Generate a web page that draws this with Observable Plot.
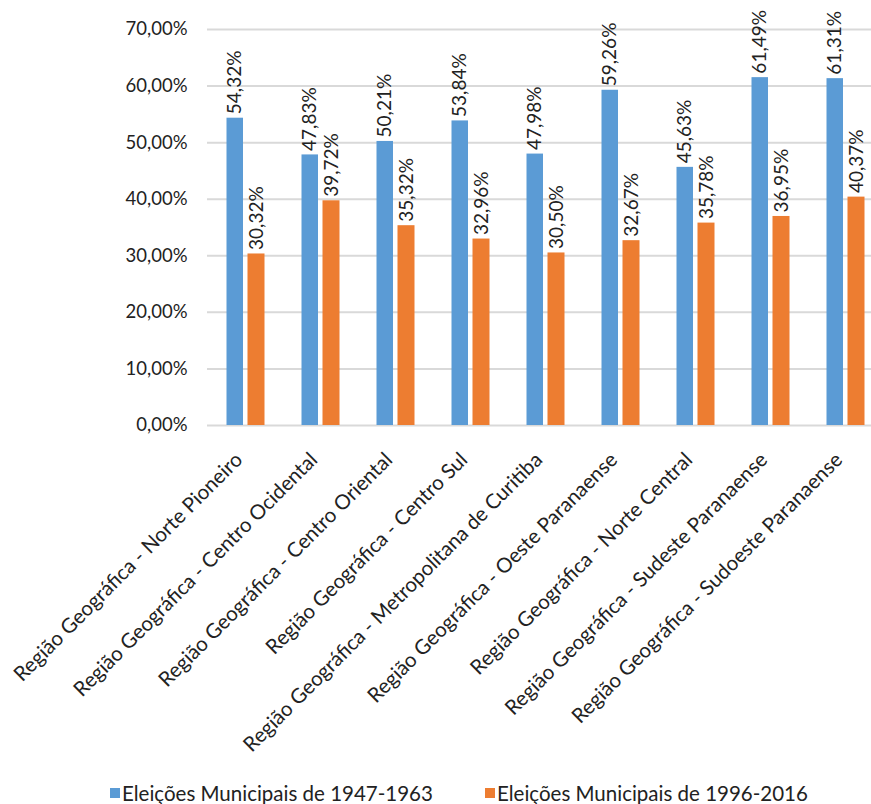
<!DOCTYPE html>
<html>
<head>
<meta charset="utf-8">
<script src="https://cdn.jsdelivr.net/npm/d3@7"></script>
<script src="https://cdn.jsdelivr.net/npm/@observablehq/plot@0.6"></script>
<style>
  html, body { margin: 0; padding: 0; background: #fff; }
  body { width: 871px; height: 804px; overflow: hidden; font-family: Lato, "Open Sans", sans-serif; }
  #legend { position: relative; height: 32px; font-size: 20.5px; color: #222; }
  .item { position: absolute; top: 9px; display: flex; align-items: center; white-space: nowrap; }
  .sw { width: 10px; height: 10px; margin-right: 2px; }
</style>
</head>
<body>
<div id="chart"></div>
<div id="legend"></div>
<script>
const categories = [
  "Região Geográfica - Norte Pioneiro",
  "Região Geográfica - Centro Ocidental",
  "Região Geográfica - Centro Oriental",
  "Região Geográfica - Centro Sul",
  "Região Geográfica - Metropolitana de Curitiba",
  "Região Geográfica - Oeste Paranaense",
  "Região Geográfica - Norte Central",
  "Região Geográfica - Sudeste Paranaense",
  "Região Geográfica - Sudoeste Paranaense"
];
const seriesNames = ["Eleições Municipais de 1947-1963", "Eleições Municipais de 1996-2016"];
const values1947 = [54.32, 47.83, 50.21, 53.84, 47.98, 59.26, 45.63, 61.49, 61.31];
const values1996 = [30.32, 39.72, 35.32, 32.96, 30.50, 32.67, 35.78, 36.95, 40.37];
const yTicks = [0, 10, 20, 30, 40, 50, 60, 70];
const colors = ["#5B9BD5", "#ED7D31"];

const fmt = v => v.toFixed(2).replace(".", ",") + "%";
const d1 = categories.map((c, i) => ({cat: c, v: values1947[i]}));
const d2 = categories.map((c, i) => ({cat: c, v: values1996[i]}));

const chart = Plot.plot({
  width: 871,
  height: 772,
  marginLeft: 207,
  marginRight: 0,
  marginTop: 29,
  marginBottom: 347,
  style: {fontFamily: "Lato, 'Open Sans', sans-serif", fontSize: "18px", color: "#222"},
  x: {domain: categories, range: [207.5, 882.5], padding: 0, label: null},
  y: {domain: [0, 70], label: null},
  marks: [
    Plot.gridY(yTicks, {stroke: "#d9d9d9", strokeOpacity: 1, strokeWidth: 2}),
    Plot.axisY(yTicks, {tickSize: 0, tickPadding: 20, tickFormat: fmt, fontSize: 18.5, label: null}),
    Plot.barY(d1, {x: "cat", y: "v", fill: colors[0], insetLeft: 18.5, insetRight: 40}),
    Plot.barY(d2, {x: "cat", y: "v", fill: colors[1], insetLeft: 39.5, insetRight: 18.5}),
    Plot.text(d1, {x: "cat", y: "v", text: d => fmt(d.v), rotate: -90, textAnchor: "start", dx: -10.75, dy: -4, fontSize: 19, fill: "#222"}),
    Plot.text(d2, {x: "cat", y: "v", text: d => fmt(d.v), rotate: -90, textAnchor: "start", dx: 10.5, dy: -4, fontSize: 19, fill: "#222"}),
    Plot.axisX({tickSize: 0, tickPadding: 22, tickRotate: -45, fontSize: 20.5, label: null, dx: -7, dy: 9})
  ]
});
document.getElementById("chart").appendChild(chart);

const legend = document.getElementById("legend");
const lefts = [110, 485];
seriesNames.forEach((name, i) => {
  const it = document.createElement("div");
  it.className = "item";
  it.style.left = lefts[i] + "px";
  const sw = document.createElement("span");
  sw.className = "sw";
  sw.style.background = colors[i];
  const tx = document.createElement("span");
  tx.textContent = name;
  it.appendChild(sw);
  it.appendChild(tx);
  legend.appendChild(it);
});
</script>
</body>
</html>
